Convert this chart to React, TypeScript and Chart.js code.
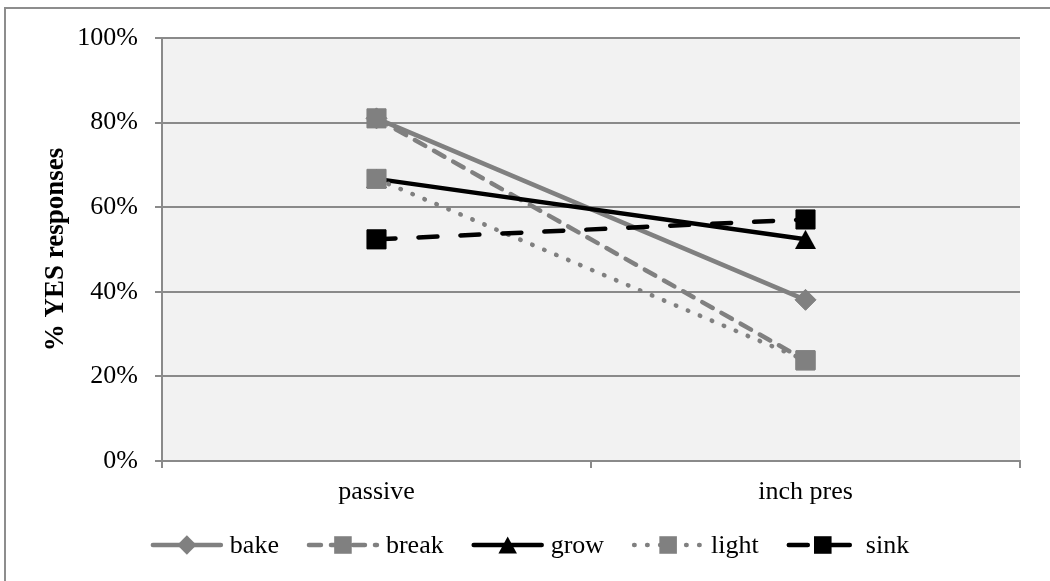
import React, { useEffect, useRef } from 'react';
import { Chart, registerables } from 'chart.js';

Chart.register(...registerables);

// Response shares (%) per verb, for the two constructions
const categories = ['passive', 'inch pres'];
const seriesNames = ['bake', 'break', 'grow', 'light', 'sink'];
const bake = [81.0, 38.1];
const breakVals = [81.0, 23.8];
const grow = [66.7, 52.4];
const light = [66.7, 23.8];
const sink = [52.4, 57.1];
const yTicks = [0, 20, 40, 60, 80, 100];

const GRAY = '#808080';
const BLACK = '#000000';
const GRID = '#8a8a8a';
const FAMILY = "'Liberation Serif', 'Times New Roman', serif";
const FONT_SIZE = 26;

type SeriesStyle = { color: string; dash: number[]; point: string; radius: number };

const seriesStyles: SeriesStyle[] = [
  { color: GRAY, dash: [], point: 'rectRot', radius: 10.5 },
  { color: GRAY, dash: [12, 10], point: 'rect', radius: 13.5 },
  { color: BLACK, dash: [], point: 'triangle', radius: 11.5 },
  { color: GRAY, dash: [0.5, 12.5], point: 'rect', radius: 13.5 },
  { color: BLACK, dash: [19, 23], point: 'rect', radius: 13.5 },
];

const seriesValues = [bake, breakVals, grow, light, sink];

function trianglePath(ctx: CanvasRenderingContext2D, x: number, y: number, w: number, h: number) {
  ctx.moveTo(x, y - h / 2);
  ctx.lineTo(x + w / 2, y + h / 2);
  ctx.lineTo(x - w / 2, y + h / 2);
  ctx.closePath();
}

// Box-centred triangle marker as an image, so it sits on the value like the squares do
function makeTriangle(w: number, h: number, color: string): HTMLCanvasElement {
  const c = document.createElement('canvas');
  c.width = w;
  c.height = h;
  const ctx = c.getContext('2d')!;
  ctx.fillStyle = color;
  ctx.beginPath();
  trianglePath(ctx, w / 2, h / 2, w, h);
  ctx.fill();
  return c;
}

function drawMarker(ctx: CanvasRenderingContext2D, shape: string, x: number, y: number, r: number, color: string) {
  ctx.save();
  ctx.fillStyle = color;
  ctx.beginPath();
  if (shape === 'rect') {
    const s = Math.SQRT1_2 * r;
    ctx.rect(x - s, y - s, 2 * s, 2 * s);
  } else if (shape === 'rectRot') {
    ctx.moveTo(x - r, y);
    ctx.lineTo(x, y - r);
    ctx.lineTo(x + r, y);
    ctx.lineTo(x, y + r);
    ctx.closePath();
  } else if (shape === 'triangle') {
    trianglePath(ctx, x, y, r * 1.75, r * 1.6);
  }
  ctx.fill();
  ctx.restore();
}

// Frame around the figure and the shaded plot area
const backdropPlugin = {
  id: 'backdrop',
  beforeDraw(chart: any) {
    const { ctx, chartArea } = chart;
    ctx.save();
    ctx.fillStyle = '#ffffff';
    ctx.fillRect(0, 0, chart.width, chart.height);
    ctx.strokeStyle = '#8d8d8d';
    ctx.lineWidth = 2;
    ctx.strokeRect(5, 8, chart.width + 20, chart.height + 20);
    ctx.fillStyle = '#f2f2f2';
    ctx.fillRect(chartArea.left, chartArea.top, chartArea.right - chartArea.left, chartArea.bottom - chartArea.top);
    ctx.restore();
  },
};

// Legend with line sample + marker for each series
const lineLegendPlugin = {
  id: 'lineLegend',
  afterDraw(chart: any) {
    const { ctx } = chart;
    const lineLen = 68;
    const textGap = 9;
    const itemGap = 30;
    const y = 545;
    ctx.save();
    ctx.font = `${FONT_SIZE}px ${FAMILY}`;
    const widths = seriesNames.map((n) => ctx.measureText(n).width);
    const total = seriesNames.length * (lineLen + textGap) + widths.reduce((a, b) => a + b, 0) + (seriesNames.length - 1) * itemGap;
    let x = (chart.width - total) / 2 + 6;
    seriesNames.forEach((name, i) => {
      const st = seriesStyles[i];
      ctx.strokeStyle = st.color;
      ctx.lineWidth = 4.5;
      ctx.lineCap = 'round';
      ctx.setLineDash(st.dash);
      ctx.beginPath();
      ctx.moveTo(x, y);
      ctx.lineTo(x + lineLen, y);
      ctx.stroke();
      ctx.setLineDash([]);
      drawMarker(ctx, st.point, x + lineLen / 2, y, st.radius * 0.92, st.color);
      ctx.fillStyle = '#000';
      ctx.textBaseline = 'middle';
      ctx.textAlign = 'left';
      ctx.fillText(name, x + lineLen + textGap, y + 1);
      x += lineLen + textGap + widths[i] + itemGap;
    });
    ctx.restore();
  },
};

export default function App() {
  const canvasRef = useRef<HTMLCanvasElement | null>(null);

  useEffect(() => {
    if (!canvasRef.current) return;
    const n = seriesNames.length;
    const datasets = seriesNames.map((name, i) => {
      const st = seriesStyles[i];
      const pointStyle = st.point === 'triangle' ? makeTriangle(21, 19, st.color) : st.point;
      return {
        label: name,
        data: seriesValues[i],
        borderColor: st.color,
        backgroundColor: st.color,
        borderWidth: 4.5,
        borderDash: st.dash,
        borderCapStyle: 'round',
        pointStyle,
        pointRadius: st.radius,
        pointBorderWidth: 1,
        pointBorderColor: st.color,
        pointBackgroundColor: st.color,
        tension: 0,
        order: n - 1 - i,
      };
    });

    const chart = new Chart(canvasRef.current, {
      type: 'line',
      data: { labels: categories, datasets: datasets as any },
      plugins: [backdropPlugin, lineLegendPlugin],
      options: {
        animation: false,
        responsive: false,
        layout: { padding: { top: 38, right: 30, bottom: 70, left: 0 } },
        plugins: { legend: { display: false }, tooltip: { enabled: false } },
        scales: {
          x: {
            type: 'category',
            offset: true,
            grid: { offset: true, drawOnChartArea: false, drawTicks: true, tickLength: 7, color: GRID, lineWidth: 2 },
            border: { display: true, color: GRID, width: 2 },
            ticks: { font: { family: FAMILY, size: FONT_SIZE }, color: '#000', padding: 9, maxRotation: 0 },
            afterFit: (s: any) => { s.height = 50; },
          },
          y: {
            min: 0,
            max: 100,
            afterBuildTicks: (s: any) => { s.ticks = yTicks.map((v) => ({ value: v })); },
            ticks: { font: { family: FAMILY, size: FONT_SIZE }, color: '#000', padding: 17, callback: (v: any) => `${v}%` },
            grid: { color: GRID, lineWidth: 2, tickLength: 7 },
            border: { display: true, color: GRID, width: 2 },
            title: {
              display: true,
              text: '% YES responses',
              color: '#000',
              font: { family: FAMILY, size: 27, weight: 'bold' },
              padding: { top: 40, bottom: 0 },
            },
            afterFit: (s: any) => { s.width = 162; },
          },
        },
      } as any,
    });
    return () => chart.destroy();
  }, []);

  return (
    <div style={{ position: 'absolute', left: 0, top: 0, width: 1050, height: 581 }}>
      <canvas ref={canvasRef} width={1050} height={581} />
    </div>
  );
}
